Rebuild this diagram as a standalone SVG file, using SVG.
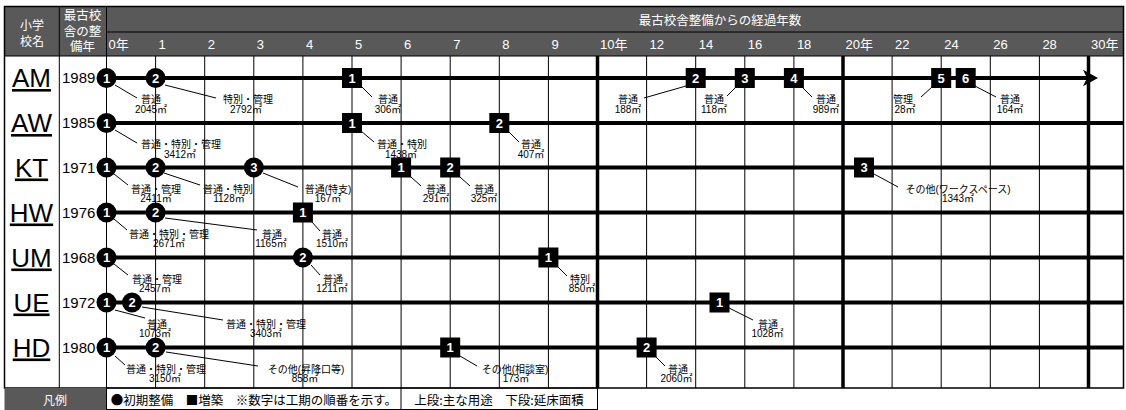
<svg xmlns="http://www.w3.org/2000/svg" width="1126" height="410" viewBox="0 0 1126 410">
<style>
.bg{fill:#fff}
.hd{fill:#595959}
.wt{fill:#fff;font-family:"Liberation Sans","Noto Sans CJK JP",sans-serif}
.ln{stroke:#000;fill:none}
.g{stroke:#000;stroke-width:1}
.gt{stroke:#000;stroke-width:3.5}
.tl{stroke:#000;stroke-width:4}
.ld{stroke:#000;stroke-width:1}
.nm{font-family:"Liberation Sans",sans-serif;font-size:26px;text-anchor:middle;text-decoration:underline}
.yr{font-family:"Liberation Sans",sans-serif;font-size:15px}
.lb{font-family:"Liberation Sans","Noto Sans CJK JP",sans-serif;font-size:10px;text-anchor:middle;fill:#000}
.num{fill:#fff;font-family:"Liberation Sans",sans-serif;font-weight:bold;font-size:13px;text-anchor:middle}
.lg{font-family:"Noto Sans CJK JP","Liberation Sans",sans-serif;font-size:12.5px;text-anchor:middle}
</style>
<defs>
<marker id="arr" markerWidth="16" markerHeight="18" refX="5" refY="9" orient="auto" markerUnits="userSpaceOnUse">
<path d="M0,0.7 L15,9 L0,17.3 L4,9 Z" fill="#000"/>
</marker>
</defs>
<rect class="bg" x="0" y="0" width="1126" height="410"/>
<g id="table">
<rect class="hd" x="4.5" y="6.5" width="1119" height="49.5"/>
<rect x="4.5" y="6.5" width="1119" height="381.5" fill="none" stroke="#000" stroke-width="1.5"/>
<line class="g" x1="106.5" y1="32" x2="1123.5" y2="32"/>
<line class="g" x1="4.5" y1="56" x2="1123.5" y2="56" stroke-width="1.5"/>
<line class="g" x1="59.3" y1="6.5" x2="59.3" y2="388" stroke-width="1.5"/>
<line class="g" x1="106.5" y1="6.5" x2="106.5" y2="56" stroke-width="1.5"/>
<text class="wt" font-size="12" text-anchor="middle"><tspan x="32" y="30">小学</tspan><tspan x="32" y="46">校名</tspan></text>
<text class="wt" font-size="12.5" text-anchor="middle"><tspan x="82.5" y="20">最古校</tspan><tspan x="82.5" y="36">舎の整</tspan><tspan x="82.5" y="51">備年</tspan></text>
<text class="wt" font-size="12.5" text-anchor="middle" x="720" y="24.5">最古校舎整備からの経過年数</text>
<g class="wt" font-size="13">
<text x="108.5" y="48.5">0年</text>
<text x="158.6" y="48.5">1</text>
<text x="207.7" y="48.5">2</text>
<text x="256.8" y="48.5">3</text>
<text x="305.9" y="48.5">4</text>
<text x="355" y="48.5">5</text>
<text x="404.1" y="48.5">6</text>
<text x="453.2" y="48.5">7</text>
<text x="502.3" y="48.5">8</text>
<text x="551.4" y="48.5">9</text>
<text x="600" y="48.5">10年</text>
<text x="649.6" y="48.5">12</text>
<text x="698.7" y="48.5">14</text>
<text x="747.8" y="48.5">16</text>
<text x="796.9" y="48.5">18</text>
<text x="845.5" y="48.5">20年</text>
<text x="895.1" y="48.5">22</text>
<text x="944.2" y="48.5">24</text>
<text x="993.3" y="48.5">26</text>
<text x="1042.4" y="48.5">28</text>
<text x="1091" y="48.5">30年</text>
</g>
<g id="grid">
<line class="g" x1="106.5" y1="56" x2="106.5" y2="388" stroke-width="2"/>
<line class="g" x1="155.6" y1="56" x2="155.6" y2="388"/>
<line class="g" x1="204.7" y1="56" x2="204.7" y2="388"/>
<line class="g" x1="253.8" y1="56" x2="253.8" y2="388"/>
<line class="g" x1="302.9" y1="56" x2="302.9" y2="388"/>
<line class="g" x1="352" y1="56" x2="352" y2="388"/>
<line class="g" x1="401.1" y1="56" x2="401.1" y2="388"/>
<line class="g" x1="450.2" y1="56" x2="450.2" y2="388"/>
<line class="g" x1="499.3" y1="56" x2="499.3" y2="388"/>
<line class="g" x1="548.4" y1="56" x2="548.4" y2="388"/>
<line class="gt" x1="597.5" y1="56" x2="597.5" y2="388"/>
<line class="g" x1="646.6" y1="56" x2="646.6" y2="388"/>
<line class="g" x1="695.7" y1="56" x2="695.7" y2="388"/>
<line class="g" x1="744.8" y1="56" x2="744.8" y2="388"/>
<line class="g" x1="793.9" y1="56" x2="793.9" y2="388"/>
<line class="gt" x1="843" y1="56" x2="843" y2="388"/>
<line class="g" x1="892.1" y1="56" x2="892.1" y2="388"/>
<line class="g" x1="941.2" y1="56" x2="941.2" y2="388"/>
<line class="g" x1="990.3" y1="56" x2="990.3" y2="388"/>
<line class="g" x1="1039.4" y1="56" x2="1039.4" y2="388"/>
<line class="gt" x1="1088.5" y1="56" x2="1088.5" y2="388"/>
</g>
<g id="legend">
<rect class="hd" x="4.5" y="388" width="102" height="22"/>
<rect x="106.5" y="388" width="491" height="21.5" fill="none" stroke="#000" stroke-width="1"/>
<line class="g" x1="401" y1="388" x2="401" y2="410"/>
<text class="wt" font-size="12" text-anchor="middle" x="55" y="404.5">凡例</text>
<text class="lg" x="254" y="404.5">●初期整備　■増築　※数字は工期の順番を示す。</text>
<text class="lg" x="499" y="404.5">上段:主な用途　下段:延床面積</text>
</g>
</g>
<g id="schools">
<text class="nm" x="31.5" y="87">AM</text><text class="yr" x="62" y="83.3">1989</text>
<text class="nm" x="31.5" y="132">AW</text><text class="yr" x="62" y="128">1985</text>
<text class="nm" x="31.5" y="176.5">KT</text><text class="yr" x="62" y="172.5">1971</text>
<text class="nm" x="31.5" y="221.5">HW</text><text class="yr" x="62" y="217.5">1976</text>
<text class="nm" x="31.5" y="266.5">UM</text><text class="yr" x="62" y="262.5">1968</text>
<text class="nm" x="31.5" y="311.5">UE</text><text class="yr" x="62" y="307.5">1972</text>
<text class="nm" x="31.5" y="356.5">HD</text><text class="yr" x="62" y="352.5">1980</text>
</g>
<g id="connectors">
<line class="tl" x1="106.5" y1="78" x2="1088" y2="78" marker-end="url(#arr)"/>
<line class="tl" x1="106.5" y1="123" x2="1123" y2="123"/>
<line class="tl" x1="106.5" y1="167.5" x2="1123" y2="167.5"/>
<line class="tl" x1="106.5" y1="212.5" x2="1123" y2="212.5"/>
<line class="tl" x1="106.5" y1="257.5" x2="1123" y2="257.5"/>
<line class="tl" x1="106.5" y1="302.5" x2="1123" y2="302.5"/>
<line class="tl" x1="106.5" y1="347.5" x2="1123" y2="347.5"/>
<line class="ld" x1="115" y1="85" x2="137" y2="98"/>
<line class="ld" x1="165" y1="85" x2="216" y2="98"/>
<line class="ld" x1="361" y1="86" x2="372" y2="97"/>
<line class="ld" x1="686" y1="86" x2="644" y2="98"/>
<line class="ld" x1="736" y1="87" x2="727" y2="96"/>
<line class="ld" x1="802" y1="87" x2="812" y2="97"/>
<line class="ld" x1="932" y1="87" x2="921" y2="97"/>
<line class="ld" x1="975" y1="86" x2="996" y2="97"/>
<line class="ld" x1="115" y1="130" x2="137" y2="143"/>
<line class="ld" x1="361" y1="131" x2="374" y2="142"/>
<line class="ld" x1="508" y1="131" x2="519" y2="142"/>
<line class="ld" x1="114" y1="174" x2="128" y2="185"/>
<line class="ld" x1="164" y1="173" x2="200" y2="185"/>
<line class="ld" x1="263" y1="173" x2="298" y2="187"/>
<line class="ld" x1="411" y1="177" x2="421" y2="186"/>
<line class="ld" x1="460" y1="177" x2="470" y2="186"/>
<line class="ld" x1="874" y1="174" x2="898" y2="187"/>
<line class="ld" x1="114" y1="219" x2="127" y2="230"/>
<line class="ld" x1="165" y1="218" x2="257" y2="230"/>
<line class="ld" x1="312" y1="222" x2="320" y2="231"/>
<line class="ld" x1="114" y1="264" x2="128" y2="275"/>
<line class="ld" x1="311" y1="265" x2="320" y2="275"/>
<line class="ld" x1="558" y1="267" x2="567" y2="276"/>
<line class="ld" x1="115" y1="310" x2="145" y2="318"/>
<line class="ld" x1="142" y1="307" x2="223" y2="320"/>
<line class="ld" x1="729" y1="308" x2="753" y2="320"/>
<line class="ld" x1="115" y1="356" x2="125" y2="365"/>
<line class="ld" x1="166" y1="352" x2="258" y2="366"/>
<line class="ld" x1="460" y1="356" x2="477" y2="366"/>
<line class="ld" x1="655" y1="356" x2="665" y2="366"/>
</g>
<!-- AM -->
<g id="AM-c1"><circle cx="106.5" cy="78" r="10"/><text class="num" x="106.5" y="82.5">1</text><text class="lb"><tspan x="151" y="103">普通</tspan><tspan x="151" y="112.5">2045㎡</tspan></text></g>
<g id="AM-c2"><circle cx="155.6" cy="78" r="10"/><text class="num" x="155.6" y="82.5">2</text><text class="lb"><tspan x="248" y="103">特別・管理</tspan><tspan x="246" y="112.5">2792㎡</tspan></text></g>
<g id="AM-s1"><rect x="342" y="68" width="20" height="20"/><text class="num" x="352" y="82.5">1</text><text class="lb"><tspan x="388" y="103">普通</tspan><tspan x="388" y="112.5">306㎡</tspan></text></g>
<g id="AM-s2"><rect x="685.7" y="68" width="20" height="20"/><text class="num" x="695.7" y="82.5">2</text><text class="lb"><tspan x="628" y="103">普通</tspan><tspan x="628" y="112.5">188㎡</tspan></text></g>
<g id="AM-s3"><rect x="734.8" y="68" width="20" height="20"/><text class="num" x="744.8" y="82.5">3</text><text class="lb"><tspan x="714" y="103">普通</tspan><tspan x="714" y="112.5">118㎡</tspan></text></g>
<g id="AM-s4"><rect x="783.9" y="68" width="20" height="20"/><text class="num" x="793.9" y="82.5">4</text><text class="lb"><tspan x="826" y="103">普通</tspan><tspan x="826" y="112.5">989㎡</tspan></text></g>
<g id="AM-s5"><rect x="931.2" y="68" width="20" height="20"/><text class="num" x="941.2" y="82.5">5</text><text class="lb"><tspan x="903" y="103">管理</tspan><tspan x="905" y="112.5">28㎡</tspan></text></g>
<g id="AM-s6"><rect x="955.7" y="68" width="20" height="20"/><text class="num" x="965.7" y="82.5">6</text><text class="lb"><tspan x="1010" y="103">普通</tspan><tspan x="1010" y="112.5">164㎡</tspan></text></g>
<!-- AW -->
<g id="AW-c1"><circle cx="106.5" cy="123" r="10"/><text class="num" x="106.5" y="127.5">1</text><text class="lb"><tspan x="181" y="148">普通・特別・管理</tspan><tspan x="180" y="157.5">3412㎡</tspan></text></g>
<g id="AW-s1"><rect x="342" y="113" width="20" height="20"/><text class="num" x="352" y="127.5">1</text><text class="lb"><tspan x="402" y="148">普通・特別</tspan><tspan x="401" y="157.5">1438㎡</tspan></text></g>
<g id="AW-s2"><rect x="489.3" y="113" width="20" height="20"/><text class="num" x="499.3" y="127.5">2</text><text class="lb"><tspan x="531" y="148">普通</tspan><tspan x="531" y="157.5">407㎡</tspan></text></g>
<!-- KT -->
<g id="KT-c1"><circle cx="106.5" cy="167.5" r="10"/><text class="num" x="106.5" y="172">1</text><text class="lb"><tspan x="156" y="192.5">普通・管理</tspan><tspan x="156" y="202">2411㎡</tspan></text></g>
<g id="KT-c2"><circle cx="155.6" cy="167.5" r="10"/><text class="num" x="155.6" y="172">2</text><text class="lb"><tspan x="228" y="192.5">普通・特別</tspan><tspan x="229" y="202">1128㎡</tspan></text></g>
<g id="KT-c3"><circle cx="253.8" cy="167.5" r="10"/><text class="num" x="253.8" y="172">3</text><text class="lb"><tspan x="328" y="192.5">普通(特支)</tspan><tspan x="328" y="202">167㎡</tspan></text></g>
<g id="KT-s1"><rect x="391.1" y="157.5" width="20" height="20"/><text class="num" x="401.1" y="172">1</text><text class="lb"><tspan x="436" y="192.5">普通</tspan><tspan x="436" y="202">291㎡</tspan></text></g>
<g id="KT-s2"><rect x="440.2" y="157.5" width="20" height="20"/><text class="num" x="450.2" y="172">2</text><text class="lb"><tspan x="484" y="192.5">普通</tspan><tspan x="484" y="202">325㎡</tspan></text></g>
<g id="KT-s3"><rect x="854" y="157.5" width="20" height="20"/><text class="num" x="864" y="172">3</text><text class="lb"><tspan x="958" y="192.5">その他(ワークスペース)</tspan><tspan x="958" y="202">1343㎡</tspan></text></g>
<!-- HW -->
<g id="HW-c1"><circle cx="106.5" cy="212.5" r="10"/><text class="num" x="106.5" y="217">1</text><text class="lb"><tspan x="169" y="237.5">普通・特別・管理</tspan><tspan x="169" y="247">2671㎡</tspan></text></g>
<g id="HW-c2"><circle cx="155.6" cy="212.5" r="10"/><text class="num" x="155.6" y="217">2</text><text class="lb"><tspan x="272" y="237.5">普通</tspan><tspan x="271" y="247">1165㎡</tspan></text></g>
<g id="HW-s1"><rect x="292.9" y="202.5" width="20" height="20"/><text class="num" x="302.9" y="217">1</text><text class="lb"><tspan x="332" y="237.5">普通</tspan><tspan x="332" y="247">1510㎡</tspan></text></g>
<!-- UM -->
<g id="UM-c1"><circle cx="106.5" cy="257.5" r="10"/><text class="num" x="106.5" y="262">1</text><text class="lb"><tspan x="157" y="282.5">普通・管理</tspan><tspan x="155" y="292">2457㎡</tspan></text></g>
<g id="UM-c2"><circle cx="302.9" cy="257.5" r="10"/><text class="num" x="302.9" y="262">2</text><text class="lb"><tspan x="333" y="282.5">普通</tspan><tspan x="332" y="292">1211㎡</tspan></text></g>
<g id="UM-s1"><rect x="538.4" y="247.5" width="20" height="20"/><text class="num" x="548.4" y="262">1</text><text class="lb"><tspan x="580" y="282.5">特別</tspan><tspan x="582" y="292">850㎡</tspan></text></g>
<!-- UE -->
<g id="UE-c1"><circle cx="106.5" cy="302.5" r="10"/><text class="num" x="106.5" y="307">1</text><text class="lb"><tspan x="157" y="327.5">普通</tspan><tspan x="155" y="337">1073㎡</tspan></text></g>
<g id="UE-c2"><circle cx="132" cy="302.5" r="10"/><text class="num" x="132" y="307">2</text><text class="lb"><tspan x="266" y="327.5">普通・特別・管理</tspan><tspan x="266" y="337">3403㎡</tspan></text></g>
<g id="UE-s1"><rect x="709.5" y="292.5" width="20" height="20"/><text class="num" x="719.5" y="307">1</text><text class="lb"><tspan x="768" y="327.5">普通</tspan><tspan x="767.5" y="337">1028㎡</tspan></text></g>
<!-- HD -->
<g id="HD-c1"><circle cx="106.5" cy="347.5" r="10"/><text class="num" x="106.5" y="352">1</text><text class="lb"><tspan x="166" y="372.5">普通・特別・管理</tspan><tspan x="165" y="382">3150㎡</tspan></text></g>
<g id="HD-c2"><circle cx="155.6" cy="347.5" r="10"/><text class="num" x="155.6" y="352">2</text><text class="lb"><tspan x="306" y="372.5">その他(昇降口等)</tspan><tspan x="305" y="382">858㎡</tspan></text></g>
<g id="HD-s1"><rect x="440.2" y="337.5" width="20" height="20"/><text class="num" x="450.2" y="352">1</text><text class="lb"><tspan x="515" y="372.5">その他(相談室)</tspan><tspan x="516" y="382">173㎡</tspan></text></g>
<g id="HD-s2"><rect x="636.6" y="337.5" width="20" height="20"/><text class="num" x="646.6" y="352">2</text><text class="lb"><tspan x="678" y="372.5">普通</tspan><tspan x="676.5" y="382">2060㎡</tspan></text></g>
</svg>
